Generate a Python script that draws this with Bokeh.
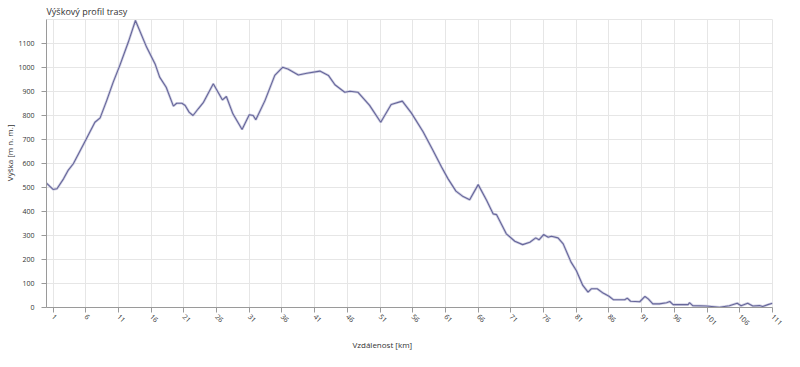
import math
from bokeh.plotting import figure
from bokeh.models import FixedTicker, Range1d, Title
from bokeh.embed import file_html
from bokeh.resources import INLINE

# distance along route [km]
km = [0, 1.0, 1.6, 2.6, 3.3, 4.1, 6.1, 7.4, 8.2, 9.2, 10.2, 11.2, 12.5, 13.6,
      15.3, 16.6, 17.3, 18.3, 19.4, 19.9, 20.7, 21.2, 21.8, 22.4, 23.2, 24.0,
      25.5, 26.9, 27.5, 28.5, 29.9, 31.0, 31.6, 32.0, 33.4, 34.9, 36.1, 36.9,
      38.5, 39.8, 41.8, 43.1, 44.1, 45.6, 46.4, 47.6, 49.4, 51.1, 52.7, 54.4,
      55.8, 57.6, 59.1, 60.4, 61.4, 62.6, 63.7, 64.7, 66.0, 67.3, 68.3, 68.8,
      70.3, 71.6, 72.8, 73.9, 74.8, 75.3, 76.0, 76.7, 77.2, 78.2, 79.0, 80.2,
      81.0, 82.0, 82.8, 83.3, 84.2, 85.1, 86.0, 86.7, 88.4, 88.8, 89.3, 90.7,
      91.5, 92.0, 92.7, 93.7, 94.8, 95.3, 95.8, 98.1, 98.3, 98.8, 100.9, 102.9,
      104.4, 105.6, 106.2, 107.2, 108.0, 109.0, 109.5, 110.3, 111.0]
# elevation [m a.s.l.]
elev = [518, 492, 495, 536, 571, 599, 703, 772, 790, 862, 939, 1008, 1105, 1196,
        1085, 1015, 960, 918, 839, 851, 851, 842, 814, 800, 828, 855,
        932, 865, 879, 807, 742, 803, 800, 782, 862, 967, 1001, 994,
        969, 976, 985, 967, 928, 897, 901, 897, 842, 772, 846, 860,
        810, 731, 654, 585, 536, 485, 462, 449, 512, 446, 390, 387,
        307, 276, 262, 272, 290, 282, 304, 293, 297, 290, 265, 189,
        154, 92, 64, 78, 78, 60, 47, 32, 32, 39, 26, 24,
        46, 36, 15, 15, 20, 25, 12, 12, 20, 8, 6, 1,
        7, 18, 7, 18, 6, 8, 4, 12, 18]

x_ticks = list(range(1, 112, 5))
y_ticks = list(range(0, 1101, 100))

FONT = "Open Sans"
TXT = "#333333"

p = figure(frame_width=726, frame_height=288, output_backend="svg",
           toolbar_location=None,
           x_range=Range1d(0, 111), y_range=Range1d(0, 1200),
           min_border_left=41, min_border_right=14, min_border_top=15,
           min_border_bottom=40)

p.title.text = "Výškový profil trasy"
p.title.text_font = FONT
p.title.text_font_size = "9px"
p.title.text_font_style = "normal"
p.title.text_color = TXT
p.title.offset = 0
p.title.standoff = 4

p.line(km, elev, line_color="#c4c4dc", line_width=2.6, line_alpha=0.8)
p.line(km, elev, line_color="#66669a", line_width=1.1)

p.xaxis.ticker = FixedTicker(ticks=x_ticks)
p.yaxis.ticker = FixedTicker(ticks=y_ticks)
p.xaxis.minor_tick_line_color = None
p.yaxis.minor_tick_line_color = None

for ax in (p.xaxis, p.yaxis):
    ax.axis_line_color = "#9a9a9a"
    ax.major_tick_line_color = "#9a9a9a"
    ax.major_tick_out = 5
    ax.major_tick_in = 0
    ax.major_label_text_font = FONT
    ax.major_label_text_font_size = "7px"
    ax.major_label_text_color = TXT

p.xaxis.major_label_orientation = -math.pi / 4
p.xaxis.major_label_standoff = 3
p.yaxis.major_label_standoff = 7

xlab = Title(text="Vzdálenost [km]", align="left", offset=306, standoff=12,
             text_font=FONT, text_font_size="8px", text_font_style="normal",
             text_color=TXT)
p.add_layout(xlab, "below")
ylab = Title(text="Výška [m n. m.]", align="right", offset=105, standoff=2,
             text_font=FONT, text_font_size="8px", text_font_style="normal",
             text_color=TXT)
p.add_layout(ylab, "left")

p.xgrid.grid_line_color = "#e6e6e6"
p.ygrid.grid_line_color = "#e6e6e6"
p.outline_line_color = "#e6e6e6"
p.background_fill_color = "white"
p.border_fill_color = "white"

open("out.html", "w").write(file_html(p, INLINE))
